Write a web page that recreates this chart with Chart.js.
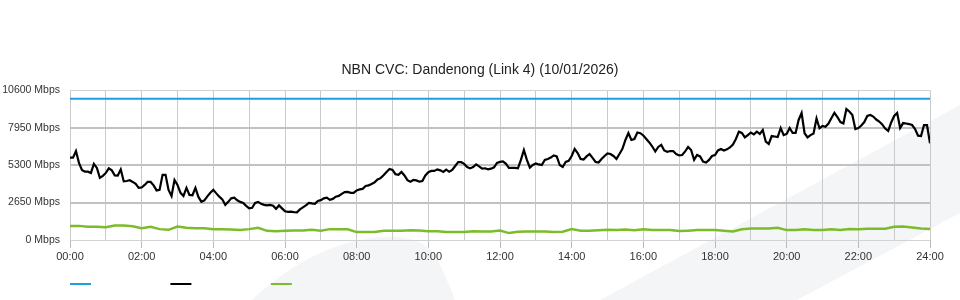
<!DOCTYPE html>
<html>
<head>
<meta charset="utf-8">
<title>NBN CVC: Dandenong (Link 4)</title>
<script src="https://cdn.jsdelivr.net/npm/chart.js@4.4.1/dist/chart.umd.min.js"></script>
<style>
  html, body { margin: 0; padding: 0; background: #fff; }
  #wrap { width: 960px; height: 300px; position: relative; }
</style>
</head>
<body>
<div id="wrap"><canvas id="chart"></canvas></div>
<script>
  'use strict';

  // chart title
  const TITLE = 'NBN CVC: Dandenong (Link 4) (10/01/2026)';

  // y axis ticks (Mbps)
  const Y_TICKS = [0, 2650, 5300, 7950, 10600];

  // x axis labels, one every two hours
  const X_LABELS = ['00:00', '02:00', '04:00', '06:00', '08:00', '10:00', '12:00',
    '14:00', '16:00', '18:00', '20:00', '22:00', '24:00'];

  // link capacity (Mbps)
  const CAPACITY = 10000;

  // inbound traffic, one sample every 5 minutes from 00:00 (Mbps)
  const DOWNLOAD_STEP = 5;
  const DOWNLOAD = [
    5830, 5830, 6300, 5460, 4960, 4840, 4840, 4750, 5390, 5100,
    4400, 4540, 4750, 5070, 4930, 4570, 4560, 5000, 4150, 4180,
    4230, 4110, 3970, 3690, 3720, 3900, 4110, 4110, 3870, 3510,
    3550, 4610, 4610, 3550, 3120, 4250, 3900, 3340, 3120, 3690,
    3190, 3170, 3690, 3050, 2700, 2810, 3090, 3340, 3550, 3300,
    3070, 2880, 2490, 2700, 2950, 3000, 2810, 2700, 2630, 2420,
    2240, 2280, 2630, 2700, 2560, 2490, 2450, 2490, 2420, 2210,
    2450, 2240, 2030, 1990, 2010, 1980, 1960, 2170, 2310, 2450,
    2630, 2590, 2560, 2770, 2820, 2950, 3000, 2840, 2910, 3070,
    3120, 3270, 3390, 3410, 3340, 3340, 3510, 3580, 3620, 3830,
    3870, 3960, 4080, 4290, 4380, 4590, 4820, 5030, 4960, 4660,
    4610, 4820, 4570, 4240, 4130, 4250, 4220, 4130, 4180, 4570,
    4800, 4890, 4890, 5000, 4930, 4820, 4980, 4830, 4960, 5240,
    5510, 5510, 5390, 5170, 5070, 5170, 5350, 5210, 5060, 5080,
    5000, 5050, 5150, 5460, 5530, 5560, 5390, 5100, 5100, 5100,
    5080, 5670, 6370, 5670, 5120, 5310, 5420, 5350, 5310, 5670,
    5740, 5840, 5990, 5920, 5310, 5170, 5530, 5600, 5950, 6450,
    6160, 5740, 5700, 5920, 6090, 5810, 5530, 5490, 5740, 5950,
    6130, 6090, 5950, 5740, 6090, 6450, 7080, 7580, 7080, 7150,
    7610, 7560, 7400, 7150, 6910, 6620, 6270, 6590, 6730, 6340,
    6250, 6300, 6300, 6090, 5990, 6020, 6270, 6590, 6370, 5670,
    6020, 5920, 5550, 5490, 5670, 5950, 6020, 6340, 6450, 6340,
    6420, 6550, 6760, 7150, 7670, 7580, 7260, 7430, 7610, 7480,
    7670, 7510, 7790, 6960, 6800, 7360, 7330, 7290, 7930, 7430,
    7510, 7930, 7580, 7580, 8500, 8990, 7560, 7270, 7430, 7540,
    8600, 7910, 8070, 8020, 8250, 8640, 9010, 8710, 8350, 8260,
    9270, 9100, 8850, 7860, 7930, 8110, 8350, 8780, 8850, 8740,
    8530, 8390, 8180, 7890, 7720, 8320, 8780, 8990, 7930, 8280,
    8250, 8210, 8140, 7860, 7390, 7360, 8140, 8140, 6850,
  ];

  // outbound traffic, one sample every 15 minutes from 00:00 (Mbps)
  const UPLOAD_STEP = 15;
  const UPLOAD = [
    1000, 1000, 930, 930, 900, 1030, 1030, 970, 840, 930,
    770, 720, 950, 860, 840, 830, 760, 760, 740, 700,
    770, 860, 650, 620, 650, 670, 670, 720, 650, 770,
    770, 760, 560, 560, 560, 650, 650, 650, 690, 670,
    620, 620, 560, 560, 560, 620, 600, 600, 670, 490,
    580, 600, 600, 600, 560, 580, 770, 650, 650, 690,
    720, 700, 740, 690, 760, 700, 700, 700, 630, 660,
    700, 700, 700, 660, 600, 760, 810, 810, 810, 860,
    700, 700, 760, 700, 700, 760, 700, 770, 760, 790,
    790, 790, 930, 950, 880, 810, 770,
  ];

  const FONT = 'Liberation Sans, Arial, Helvetica, sans-serif';

  // samples -> {x: hours, y}
  const series = (values, step) => values.map((v, i) => ({ x: i * step / 60, y: v }));

  // light grey decorative swoosh behind the chart
  const swoosh = {
    id: 'swoosh',
    beforeDraw: (chart) => {
      const ctx = chart.ctx;
      ctx.save();
      ctx.fillStyle = '#f4f5f7';

      ctx.beginPath();
      ctx.moveTo(252, 300);
      ctx.bezierCurveTo(292, 262, 345, 234, 398, 237);
      ctx.quadraticCurveTo(428, 240, 438, 260);
      ctx.lineTo(452, 292);
      ctx.lineTo(455, 300);
      ctx.closePath();
      ctx.fill();

      ctx.beginPath();
      ctx.moveTo(600, 300);
      ctx.lineTo(960, 105);
      ctx.lineTo(960, 213);
      ctx.lineTo(797, 300);
      ctx.closePath();
      ctx.fill();
      ctx.restore();
    },
  };

  Chart.defaults.font.family = FONT;
  Chart.defaults.color = '#333';

  new Chart(document.getElementById('chart'), {
    type: 'line',
    data: {
      datasets: [{
        label: 'Capacity',
        data: [{ x: 0, y: CAPACITY }, { x: 24, y: CAPACITY }],
        borderColor: '#1ea0dc',
        borderWidth: 2,
      }, {
        label: 'Inbound',
        data: series(DOWNLOAD, DOWNLOAD_STEP),
        borderColor: '#000',
        borderWidth: 2.2,
      }, {
        label: 'Outbound',
        data: series(UPLOAD, UPLOAD_STEP),
        borderColor: '#7cbc2a',
        borderWidth: 2.5,
      }],
    },
    options: {
      responsive: true,
      maintainAspectRatio: false,
      animation: false,
      devicePixelRatio: 1,
      layout: { padding: 0 },

      elements: {
        point: { radius: 0 },
        line: { tension: 0 },
      },

      scales: {
        x: {
          type: 'linear',
          min: 0,
          max: 24,
          afterFit: (axis) => { axis.height = 38; },
          border: { display: false },
          grid: {
            color: '#cacaca',
            lineWidth: 1,
            tickLength: 8,
            tickColor: (c) => (c.tick && c.tick.value % 2 ? 'rgba(0,0,0,0)' : '#bbb'),
          },
          ticks: {
            stepSize: 1,
            autoSkip: false,
            maxRotation: 0,
            padding: 2,
            font: { size: 11 },
            color: '#333',
            callback: (v) => (v % 2 ? '' : X_LABELS[v / 2]),
          },
        },

        y: {
          min: 0,
          max: 10600,
          afterFit: (axis) => { axis.width = 70; },
          afterBuildTicks: (axis) => { axis.ticks = Y_TICKS.map((v) => ({ value: v })); },
          border: { display: false },
          grid: {
            drawTicks: false,
            color: (c) => (c.tick && (c.tick.value === 0 || c.tick.value === 10600) ? '#d2d2d2' : '#c2c2c2'),
            lineWidth: (c) => (c.tick && (c.tick.value === 0 || c.tick.value === 10600) ? 1 : 2),
          },
          ticks: {
            padding: 10,
            font: { size: 10.5 },
            color: '#333',
            callback: (v) => v + ' Mbps',
          },
        },

        // empty right margin, keeps the title centred on the page
        yRight: {
          position: 'right',
          min: 0,
          max: 10600,
          afterFit: (axis) => { axis.width = 30; },
          border: { display: false },
          grid: { display: false },
          ticks: { display: false },
        },
      },

      plugins: {
        title: {
          display: true,
          text: TITLE,
          color: '#222',
          font: { size: 14, weight: 'normal' },
          padding: { top: 62, bottom: 11.5 },
        },

        legend: {
          position: 'bottom',
          align: 'start',
          fullSize: false,
          labels: {
            boxWidth: 21,
            boxHeight: 2,
            padding: 0,
            color: 'rgba(0,0,0,0)',
            font: { size: 12 },
            // blank labels, spaced 100px apart
            generateLabels: (chart) => chart.data.datasets.map((ds, i) => ({
              text: '\u2007'.repeat(11),
              fillStyle: ds.borderColor,
              strokeStyle: ds.borderColor,
              lineWidth: 0,
              fontColor: 'rgba(0,0,0,0)',
              hidden: false,
              datasetIndex: i,
            })),
          },
        },

        tooltip: { enabled: false },
      },
    },
    plugins: [swoosh],
  });
</script>
</body>
</html>
